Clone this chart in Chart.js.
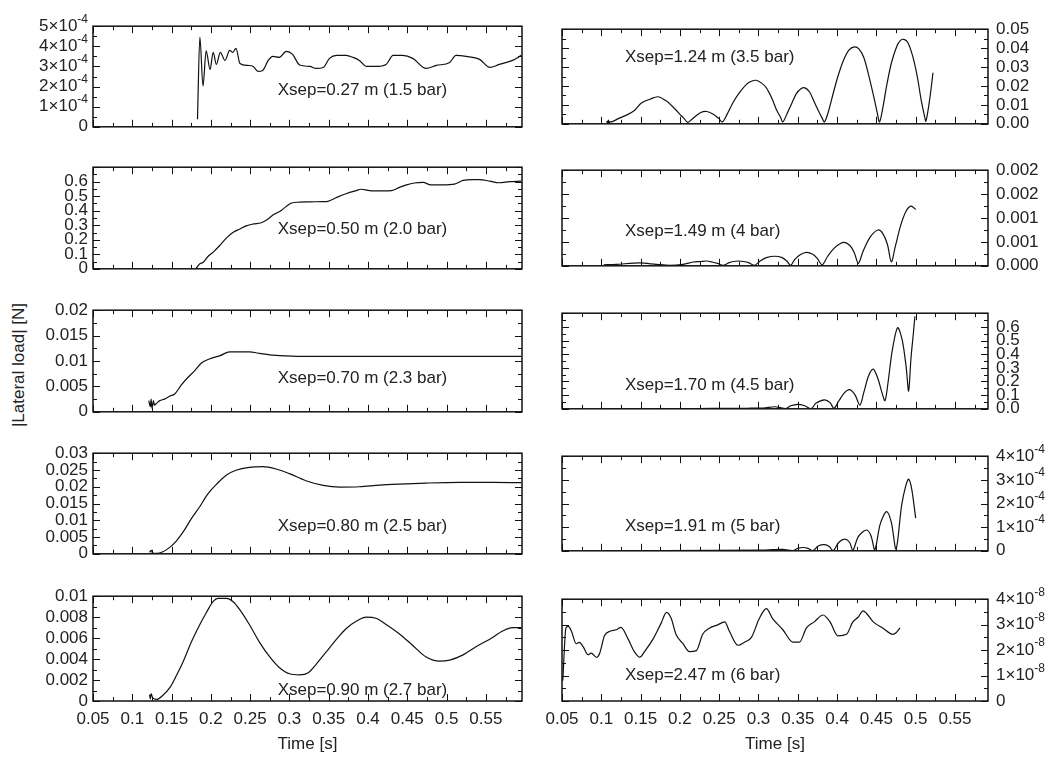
<!DOCTYPE html>
<html>
<head>
<meta charset="utf-8">
<script src="https://cdn.jsdelivr.net/npm/chart.js@4.4.1/dist/chart.umd.min.js"></script>
<style>
  body { margin: 0; background: #fff; width: 1063px; height: 759px; position: relative; overflow: hidden;
         font-family: "Liberation Sans", Arial, sans-serif; }
  canvas { position: absolute; }
  #ylab { position: absolute; left: 19px; top: 365px; transform: translate(-50%, -50%) rotate(-90deg);
          font-size: 17px; color: #222; white-space: nowrap; }
</style>
</head>
<body>
<div id="ylab">|Lateral load| [N]</div>
<script>
// time axis (shared)
const xTickValues = [0.05, 0.1, 0.15, 0.2, 0.25, 0.3, 0.35, 0.4, 0.45, 0.5, 0.55];
const xTickLabels = ['0.05', '0.1', '0.15', '0.2', '0.25', '0.3', '0.35', '0.4', '0.45', '0.5', '0.55'];

// left column
const t027 = [0.183,0.186,0.190,0.194,0.199,0.203,0.207,0.212,0.218,0.224,0.228,0.232,0.237,0.247,0.254,0.260,0.266,0.273,0.279,0.287,0.296,0.304,0.313,0.326,0.334,0.343,0.351,0.360,0.372,0.381,0.389,0.398,0.410,0.423,0.432,0.444,0.457,0.474,0.487,0.504,0.512,0.525,0.542,0.555,0.567,0.584,0.595];
const v027 = [0.38e-4,4.46e-4,2.03e-4,3.77e-4,2.85e-4,3.7e-4,3.1e-4,3.7e-4,3.3e-4,3.8e-4,3.7e-4,3.9e-4,3.15e-4,3.05e-4,3.0e-4,2.75e-4,2.8e-4,3.3e-4,3.5e-4,3.45e-4,3.75e-4,3.6e-4,3.07e-4,3.0e-4,2.9e-4,2.95e-4,3.4e-4,3.55e-4,3.55e-4,3.45e-4,3.3e-4,3.0e-4,3.0e-4,3.1e-4,3.55e-4,3.55e-4,3.4e-4,2.9e-4,3.05e-4,3.2e-4,3.55e-4,3.5e-4,3.35e-4,2.95e-4,3.1e-4,3.3e-4,3.55e-4];

const t050 = [0.181,0.186,0.190,0.196,0.203,0.211,0.220,0.228,0.237,0.245,0.254,0.264,0.271,0.279,0.290,0.296,0.302,0.313,0.326,0.343,0.349,0.360,0.372,0.385,0.391,0.402,0.419,0.430,0.440,0.449,0.459,0.470,0.480,0.495,0.510,0.521,0.533,0.542,0.555,0.567,0.580,0.595];
const v050 = [0,0.035,0.043,0.083,0.115,0.159,0.213,0.25,0.274,0.296,0.309,0.317,0.337,0.37,0.404,0.43,0.452,0.459,0.461,0.463,0.465,0.491,0.517,0.539,0.548,0.539,0.537,0.539,0.561,0.578,0.591,0.596,0.578,0.578,0.583,0.609,0.615,0.615,0.604,0.593,0.6,0.604];

const t070 = [0.121,0.123,0.124,0.125,0.127,0.128,0.131,0.135,0.141,0.148,0.154,0.162,0.171,0.179,0.188,0.198,0.211,0.224,0.237,0.249,0.262,0.275,0.296,0.321,0.355,0.398,0.440,0.483,0.525,0.595];
const v070 = [0.0022,0.001,0.0025,0.0007,0.0022,0.0013,0.0017,0.0022,0.0025,0.0031,0.0035,0.0052,0.0068,0.008,0.0096,0.0104,0.011,0.0118,0.0118,0.0118,0.0115,0.0112,0.011,0.0109,0.0109,0.0109,0.0109,0.0109,0.0109,0.0109];

const t080 = [0.122,0.124,0.126,0.131,0.139,0.148,0.156,0.165,0.175,0.186,0.196,0.207,0.220,0.232,0.249,0.266,0.283,0.300,0.321,0.343,0.364,0.389,0.415,0.440,0.474,0.517,0.559,0.595];
const v080 = [0.0004,0.001,0.0002,0.0001,0.0006,0.002,0.0038,0.0066,0.0104,0.0141,0.0178,0.0207,0.0235,0.0249,0.0258,0.026,0.0253,0.0239,0.0218,0.0204,0.0199,0.02,0.0205,0.0208,0.0211,0.0213,0.0213,0.0212];

const t090 = [0.122,0.123,0.124,0.126,0.131,0.139,0.148,0.156,0.165,0.175,0.186,0.194,0.203,0.209,0.220,0.228,0.237,0.249,0.262,0.275,0.287,0.300,0.313,0.324,0.334,0.347,0.360,0.372,0.385,0.398,0.410,0.423,0.440,0.457,0.474,0.491,0.504,0.521,0.538,0.555,0.572,0.584,0.595];
const v090 = [0.0006,0.0002,0.0007,0.0003,0.00015,0.00055,0.0013,0.0024,0.0038,0.0056,0.0073,0.0084,0.0095,0.0098,0.0098,0.0095,0.0087,0.0073,0.0056,0.0042,0.0032,0.0026,0.0025,0.0027,0.0035,0.0047,0.0059,0.0069,0.0076,0.008,0.0079,0.0073,0.0064,0.0053,0.0042,0.0038,0.0039,0.0044,0.0052,0.0059,0.0067,0.007,0.007];

// right column
const t124 = [0.107,0.108,0.109,0.110,0.111,0.113,0.123,0.134,0.142,0.151,0.162,0.172,0.183,0.189,0.195,0.200,0.204,0.210,0.216,0.226,0.234,0.242,0.249,0.254,0.260,0.268,0.276,0.285,0.291,0.297,0.304,0.310,0.317,0.323,0.328,0.331,0.336,0.342,0.348,0.354,0.359,0.365,0.371,0.377,0.381,0.384,0.389,0.395,0.401,0.408,0.415,0.422,0.428,0.434,0.440,0.446,0.451,0.454,0.458,0.463,0.469,0.476,0.481,0.485,0.490,0.496,0.502,0.507,0.511,0.513,0.518,0.522];
const v124 = [0.0015,0.0003,0.002,0.0002,0.0012,0.001,0.003,0.005,0.007,0.011,0.013,0.0143,0.012,0.0098,0.0073,0.005,0.0034,0.0008,0.0027,0.0058,0.0065,0.0052,0.003,0.001,0.005,0.0115,0.0166,0.021,0.0225,0.023,0.0215,0.019,0.0135,0.0073,0.0035,0.001,0.005,0.0105,0.0158,0.0185,0.019,0.0168,0.0115,0.0062,0.003,0.001,0.0065,0.016,0.025,0.0335,0.039,0.0407,0.0395,0.035,0.026,0.0155,0.006,0.001,0.008,0.02,0.032,0.041,0.0442,0.0446,0.043,0.036,0.025,0.0125,0.0045,0.0014,0.0135,0.027];

const t149 = [0.103,0.119,0.149,0.170,0.187,0.204,0.217,0.226,0.234,0.241,0.248,0.255,0.262,0.268,0.274,0.281,0.288,0.295,0.302,0.310,0.321,0.330,0.336,0.341,0.346,0.353,0.361,0.369,0.375,0.381,0.388,0.397,0.408,0.416,0.422,0.427,0.433,0.442,0.452,0.458,0.464,0.469,0.474,0.481,0.488,0.494,0.500];
const v149 = [0.02e-3,0.03e-3,0.06e-3,0.03e-3,0.01e-3,0.03e-3,0.08e-3,0.09e-3,0.1e-3,0.08e-3,0.05e-3,0.01e-3,0.06e-3,0.09e-3,0.1e-3,0.09e-3,0.06e-3,0.01e-3,0.1e-3,0.17e-3,0.2e-3,0.17e-3,0.1e-3,0.01e-3,0.13e-3,0.23e-3,0.28e-3,0.24e-3,0.15e-3,0.02e-3,0.2e-3,0.38e-3,0.49e-3,0.43e-3,0.27e-3,0.05e-3,0.3e-3,0.6e-3,0.75e-3,0.68e-3,0.45e-3,0.08e-3,0.4e-3,0.85e-3,1.15e-3,1.25e-3,1.18e-3];

const t170 = [0.105,0.179,0.221,0.263,0.285,0.306,0.321,0.328,0.335,0.341,0.350,0.358,0.367,0.373,0.384,0.391,0.396,0.402,0.409,0.416,0.423,0.429,0.434,0.440,0.446,0.452,0.457,0.461,0.465,0.470,0.477,0.483,0.488,0.491,0.494,0.497,0.499];
const v170 = [0,0.001,0.002,0.003,0.004,0.006,0.015,0.008,0.002,0.022,0.033,0.024,0.001,0.04,0.065,0.045,0.004,0.055,0.115,0.14,0.1,0.026,0.12,0.24,0.29,0.22,0.12,0.059,0.2,0.42,0.594,0.5,0.3,0.13,0.37,0.55,0.677];

const t191 = [0.105,0.179,0.306,0.318,0.331,0.338,0.344,0.350,0.357,0.363,0.369,0.376,0.384,0.390,0.395,0.402,0.410,0.416,0.420,0.427,0.437,0.443,0.448,0.455,0.463,0.469,0.475,0.482,0.487,0.491,0.495,0.500];
const v191 = [0,0.01e-4,0.03e-4,0.05e-4,0.06e-4,0.03e-4,0,0.1e-4,0.14e-4,0.1e-4,0,0.2e-4,0.26e-4,0.18e-4,0,0.35e-4,0.49e-4,0.35e-4,0.01e-4,0.6e-4,0.88e-4,0.65e-4,0.04e-4,1.15e-4,1.66e-4,1.2e-4,0.07e-4,1.9e-4,2.7e-4,3.03e-4,2.6e-4,1.38e-4];

const t247 = [0.051,0.055,0.058,0.062,0.068,0.072,0.077,0.083,0.087,0.094,0.098,0.104,0.111,0.119,0.125,0.134,0.142,0.149,0.155,0.166,0.176,0.183,0.189,0.195,0.204,0.212,0.221,0.229,0.238,0.248,0.257,0.263,0.274,0.282,0.291,0.301,0.310,0.318,0.331,0.344,0.352,0.361,0.371,0.382,0.391,0.401,0.412,0.420,0.427,0.433,0.437,0.446,0.458,0.471,0.475,0.480];
const v247 = [0.8e-8,2.87e-8,2.93e-8,2.74e-8,2.25e-8,2.3e-8,2.13e-8,1.82e-8,1.88e-8,1.72e-8,1.88e-8,2.56e-8,2.74e-8,2.8e-8,2.89e-8,2.44e-8,1.94e-8,1.72e-8,1.94e-8,2.44e-8,3.05e-8,3.48e-8,3.24e-8,2.62e-8,2.25e-8,1.94e-8,1.98e-8,2.62e-8,2.87e-8,2.99e-8,3.11e-8,2.74e-8,2.19e-8,2.31e-8,2.5e-8,3.24e-8,3.63e-8,3.24e-8,2.8e-8,2.31e-8,2.31e-8,2.87e-8,3.11e-8,3.38e-8,3.11e-8,2.56e-8,2.62e-8,3.11e-8,3.3e-8,3.54e-8,3.46e-8,3.11e-8,2.87e-8,2.62e-8,2.68e-8,2.87e-8];

// y ticks per panel; "m^e" labels get a raised exponent, '' = unlabelled tick on the frame
const yTicks027 = [0, 1e-4, 2e-4, 3e-4, 4e-4, 5e-4];
const yLabels027 = ['0', '1\u00d710^-4', '2\u00d710^-4', '3\u00d710^-4', '4\u00d710^-4', '5\u00d710^-4'];
const yTicks050 = [0, 0.1, 0.2, 0.3, 0.4, 0.5, 0.6, 0.7];
const yLabels050 = ['0', '0.1', '0.2', '0.3', '0.4', '0.5', '0.6', ''];
const yTicks070 = [0, 0.005, 0.01, 0.015, 0.02];
const yLabels070 = ['0', '0.005', '0.01', '0.015', '0.02'];
const yTicks080 = [0, 0.005, 0.01, 0.015, 0.02, 0.025, 0.03];
const yLabels080 = ['0', '0.005', '0.01', '0.015', '0.02', '0.025', '0.03'];
const yTicks090 = [0, 0.002, 0.004, 0.006, 0.008, 0.01];
const yLabels090 = ['0', '0.002', '0.004', '0.006', '0.008', '0.01'];
const yTicks124 = [0, 0.01, 0.02, 0.03, 0.04, 0.05];
const yLabels124 = ['0.00', '0.01', '0.02', '0.03', '0.04', '0.05'];
const yTicks149 = [0, 0.0005, 0.001, 0.0015, 0.002];
const yLabels149 = ['0.000', '0.001', '0.001', '0.002', '0.002'];
const yTicks170 = [0, 0.1, 0.2, 0.3, 0.4, 0.5, 0.6, 0.7];
const yLabels170 = ['0.0', '0.1', '0.2', '0.3', '0.4', '0.5', '0.6', ''];
const yTicks191 = [0, 1e-4, 2e-4, 3e-4, 4e-4];
const yLabels191 = ['0', '1\u00d710^-4', '2\u00d710^-4', '3\u00d710^-4', '4\u00d710^-4'];
const yTicks247 = [0, 1e-8, 2e-8, 3e-8, 4e-8];
const yLabels247 = ['0', '1\u00d710^-8', '2\u00d710^-8', '3\u00d710^-8', '4\u00d710^-8'];

// layout
const rowTop = [23, 164, 307, 450, 593];
const rowBottom = [130, 272, 415, 557, 701];
const xMax = [0.596, 0.592];
const FONT = '"Liberation Sans", Arial, sans-serif';

const panels = [
  { col: 0, row: 0, t: t027, v: v027, yTicks: yTicks027, yLabels: yLabels027, note: 'Xsep=0.27 m (1.5 bar)', noteAt: [0.285, 1.81e-4] },
  { col: 0, row: 1, t: t050, v: v050, yTicks: yTicks050, yLabels: yLabels050, note: 'Xsep=0.50 m (2.0 bar)', noteAt: [0.285, 0.274] },
  { col: 0, row: 2, t: t070, v: v070, yTicks: yTicks070, yLabels: yLabels070, note: 'Xsep=0.70 m (2.3 bar)', noteAt: [0.285, 0.0065] },
  { col: 0, row: 3, t: t080, v: v080, yTicks: yTicks080, yLabels: yLabels080, note: 'Xsep=0.80 m (2.5 bar)', noteAt: [0.285, 0.0081] },
  { col: 0, row: 4, t: t090, v: v090, yTicks: yTicks090, yLabels: yLabels090, note: 'Xsep=0.90 m (2.7 bar)', noteAt: [0.285, 0.00102] },
  { col: 1, row: 0, t: t124, v: v124, yTicks: yTicks124, yLabels: yLabels124, note: 'Xsep=1.24 m (3.5 bar)', noteAt: [0.130, 0.0349], arches: true },
  { col: 1, row: 1, t: t149, v: v149, yTicks: yTicks149, yLabels: yLabels149, note: 'Xsep=1.49 m (4 bar)', noteAt: [0.130, 0.000725], arches: true },
  { col: 1, row: 2, t: t170, v: v170, yTicks: yTicks170, yLabels: yLabels170, note: 'Xsep=1.70 m (4.5 bar)', noteAt: [0.130, 0.175], arches: true },
  { col: 1, row: 3, t: t191, v: v191, yTicks: yTicks191, yLabels: yLabels191, note: 'Xsep=1.91 m (5 bar)', noteAt: [0.130, 1.05e-4], arches: true },
  { col: 1, row: 4, t: t247, v: v247, yTicks: yTicks247, yLabels: yLabels247, note: 'Xsep=2.47 m (6 bar)', noteAt: [0.130, 0.99e-8] }
];

Chart.defaults.font.family = FONT;
Chart.defaults.font.size = 17;
Chart.defaults.color = '#222';

// frame + inward tick marks on all four sides, exponent labels, in-plot note
const frameTicks = {
  id: 'frameTicks',
  afterDatasetsDraw(chart, args, o) {
    const { ctx, chartArea: a, scales: { x, y } } = chart;
    const mid = (arr, max) => {
      const out = [];
      for (let i = 0; i < arr.length; i++) {
        const step = i < arr.length - 1 ? arr[i + 1] - arr[i] : arr[i] - arr[i - 1];
        const m = arr[i] + step / 2;
        if (m < max) out.push(m);
      }
      return out;
    };
    ctx.save();
    ctx.strokeStyle = '#111';
    ctx.lineWidth = 1;
    ctx.beginPath();
    const xt = (vals, len) => vals.forEach(v => {
      const px = Math.round(x.getPixelForValue(v)) + 0.5;
      ctx.moveTo(px, a.bottom); ctx.lineTo(px, a.bottom - len);
      ctx.moveTo(px, a.top); ctx.lineTo(px, a.top + len);
    });
    const yt = (vals, len) => vals.forEach(v => {
      const py = Math.round(y.getPixelForValue(v)) + 0.5;
      ctx.moveTo(a.left, py); ctx.lineTo(a.left + len, py);
      ctx.moveTo(a.right, py); ctx.lineTo(a.right - len, py);
    });
    xt(xTickValues, 7);
    xt(mid(xTickValues, x.max), 4);
    yt(o.yTicks, 7);
    yt(mid(o.yTicks, y.max), 4);
    ctx.stroke();
    ctx.lineWidth = 1.5;
    ctx.strokeRect(a.left, a.top, a.right - a.left, a.bottom - a.top);

    ctx.fillStyle = '#222';
    ctx.textAlign = 'left';
    ctx.textBaseline = 'middle';
    o.yTicks.forEach((v, i) => {
      const lab = o.yLabels[i];
      if (!lab.includes('^')) return;
      const [m, e] = lab.split('^');
      const py = y.getPixelForValue(v);
      ctx.font = '12px ' + FONT;
      const ew = ctx.measureText(e).width;
      ctx.font = '17px ' + FONT;
      const mw = ctx.measureText(m).width;
      const x0 = o.leftSide ? a.left - 5 - ew - mw : a.right + 8;
      ctx.fillText(m, x0, py);
      ctx.font = '12px ' + FONT;
      ctx.fillText(e, x0 + mw, py - 7);
    });

    ctx.font = '17px ' + FONT;
    ctx.fillText(o.note, x.getPixelForValue(o.noteAt[0]), y.getPixelForValue(o.noteAt[1]));
    ctx.restore();
  }
};

panels.forEach(p => {
  const isBottom = p.row === 4;
  const padTop = 12;
  const bottomSpace = isBottom ? 58 : 12;
  const T = rowTop[p.row], B = rowBottom[p.row];
  const cw = p.col === 0 ? 530 : 533;
  const ch = padTop + (B - T) + bottomSpace;
  const c = document.createElement('canvas');
  c.width = cw; c.height = ch;
  c.style.left = (p.col === 0 ? 0 : 530) + 'px';
  c.style.top = (T - padTop) + 'px';
  c.style.width = cw + 'px'; c.style.height = ch + 'px';
  document.body.appendChild(c);

  const line = p.arches ? { tension: 0.3 } : { cubicInterpolationMode: 'monotone' };

  new Chart(c, {
    type: 'line',
    data: {
      datasets: [Object.assign({
        data: p.t.map((t, i) => ({ x: t, y: p.v[i] })),
        borderColor: '#111',
        borderWidth: 1.2,
        pointRadius: 0,
        borderJoinStyle: 'round'
      }, line)]
    },
    options: {
      responsive: false,
      animation: false,
      events: [],
      layout: { padding: { top: padTop, bottom: 0, left: p.col === 0 ? 0 : 32, right: p.col === 0 ? 8 : 0 } },
      plugins: {
        legend: { display: false },
        tooltip: { enabled: false },
        frameTicks: { yTicks: p.yTicks, yLabels: p.yLabels, leftSide: p.col === 0, note: p.note, noteAt: p.noteAt }
      },
      scales: {
        x: {
          type: 'linear',
          min: 0.05,
          max: xMax[p.col],
          afterBuildTicks: s => { s.ticks = xTickValues.map(v => ({ value: v })); },
          afterFit: s => { s.height = bottomSpace; },
          grid: { display: false, drawTicks: false },
          border: { display: false },
          ticks: { display: isBottom, autoSkip: false, maxRotation: 0, padding: 8,
                   callback: (v, i) => xTickLabels[i] },
          title: { display: isBottom, text: 'Time [s]', padding: { top: 4, bottom: 4 } }
        },
        y: {
          type: 'linear',
          position: p.col === 0 ? 'left' : 'right',
          min: 0,
          max: p.yTicks[p.yTicks.length - 1],
          afterBuildTicks: s => { s.ticks = p.yTicks.map(v => ({ value: v })); },
          afterFit: s => { s.width = p.col === 0 ? 93 : 75; },
          grid: { display: false, drawTicks: false },
          border: { display: false },
          ticks: { autoSkip: false, padding: p.col === 0 ? 5 : 8,
                   callback: (v, i) => (p.yLabels[i].includes('^') ? '' : p.yLabels[i]) }
        }
      }
    },
    plugins: [frameTicks]
  });
});
</script>
</body>
</html>
